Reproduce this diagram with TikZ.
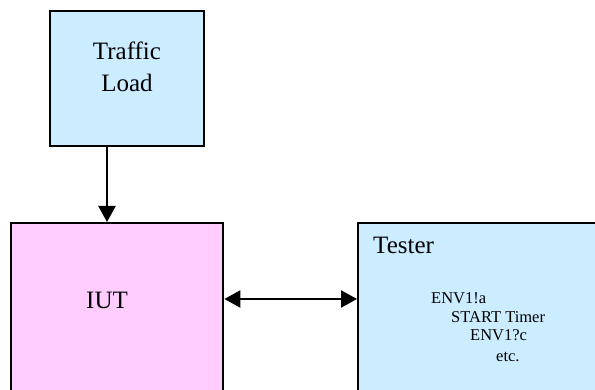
\documentclass[tikz,border=0pt]{standalone}
\usepackage{fontspec}
\setmainfont{Liberation Serif}
\newfontfamily\timesfont{Liberation Serif}
\usetikzlibrary{arrows.meta}
\definecolor{boxblue}{RGB}{204,236,255}
\definecolor{boxpink}{RGB}{255,204,255}
\tikzset{
  blockbox/.style={draw=black, line width=2.4pt, rectangle, inner sep=0pt},
  bigtext/.style={inner sep=0pt, font=\timesfont\fontsize{25}{32}\selectfont},
  smalltext/.style={inner sep=0pt, anchor=base west, font=\timesfont\fontsize{16.5}{20}\selectfont},
  conn/.style={line width=2.4pt, -{Triangle[length=16pt,width=17pt]}},
  conn2/.style={line width=2.4pt, {Triangle[length=16pt,width=17pt]}-{Triangle[length=16pt,width=17pt]}}
}
\begin{document}
\begin{tikzpicture}[x=1pt,y=-1pt]
\useasboundingbox (0,0) rectangle (595,390);
\fill[white] (0,0) rectangle (595,390);
\clip (0,0) rectangle (595,390);
% boxes
\node[blockbox, fill=boxblue, minimum width=154pt, minimum height=135pt, anchor=north west] (traffic) at (49,10) {};
\node[blockbox, fill=boxpink, minimum width=212pt, minimum height=200pt, anchor=north west] (iut) at (10,222) {};
\node[blockbox, fill=boxblue, minimum width=270pt, minimum height=200pt, anchor=north west] (tester) at (357,222) {};
% labels
\node[bigtext, anchor=base] (tr1) at (127,60) {Traffic};
\node[bigtext, anchor=base] (tr2) at (127,92) {Load};
\node[bigtext, anchor=base] (iutlabel) at (107,309) {IUT};
\node[bigtext, anchor=base west] (testerlabel) at (373,254) {Tester};
\node[smalltext] (s1) at (431,304) {ENV1!a};
\node[smalltext] (s2) at (451,323) {START Timer};
\node[smalltext] (s3) at (470,341) {ENV1?c};
\node[smalltext] (s4) at (496,362) {etc.};
% connectors
\coordinate (ax) at (107,0);
\coordinate (ay) at (0,299);
\draw[conn] (traffic.south -| ax) -- (iut.north -| ax);
\draw[conn2] (iut.east |- ay) -- (tester.west |- ay);
\end{tikzpicture}
\end{document}
